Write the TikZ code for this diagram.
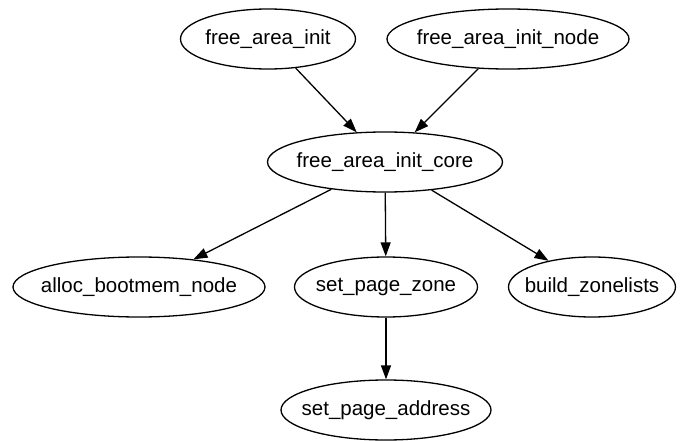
\documentclass[tikz,border=0pt]{standalone}
\usepackage{fontspec}
\setmainfont{Liberation Sans}
\usetikzlibrary{shapes.geometric,arrows.meta}
\tikzset{
  fn/.style={draw, ellipse, line width=1.3pt, minimum height=60pt, inner sep=0pt, font=\fontsize{20.5}{24}\selectfont},
  call/.style={line width=1.3pt, -{Triangle[length=14pt,width=10pt]}}
}
\newcommand{\fname}[1]{\makebox[0pt]{#1}}
\begin{document}
\begin{tikzpicture}[x=1pt,y=-1pt]
    \useasboundingbox (0,0) rectangle (683,441);
    % callers
    \node[fn,minimum width=175pt] (fai)  at (268,39) {\fname{free\_area\_init}};
    \node[fn,minimum width=242pt] (fain) at (508,39) {\fname{free\_area\_init\_node}};
    \node[fn,minimum width=235pt] (faic) at (385,162) {\fname{free\_area\_init\_core}};
    % callees
    \node[fn,minimum width=252pt] (abn) at (139,287) {\fname{alloc\_bootmem\_node}};
    \node[fn,minimum width=183pt] (spz) at (386,287) {\fname{set\_page\_zone}};
    \node[fn,minimum width=167pt] (bz)  at (592,287) {\fname{build\_zonelists}};
    \node[fn,minimum width=210pt] (spa) at (386,410) {\fname{set\_page\_address}};
    \draw[call] (fai) -- (faic);
    \draw[call] (fain) -- (faic);
    \draw[call] (faic) -- (abn);
    \draw[call] (faic) -- (spz);
    \draw[call] (faic) -- (bz);
    \draw[call] (spz) -- (spa);
\end{tikzpicture}
\end{document}
